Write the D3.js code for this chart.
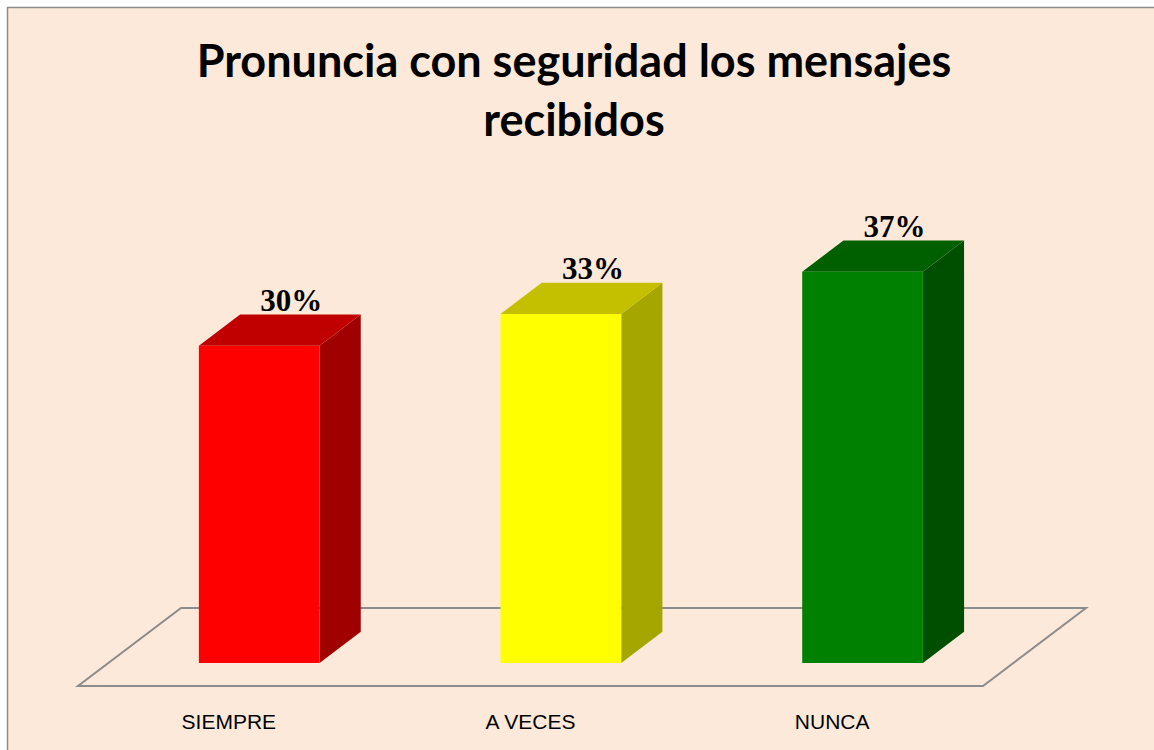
<!DOCTYPE html>
<html>
<head>
<meta charset="utf-8">
<script src="https://cdn.jsdelivr.net/npm/d3@7"></script>
<style>
  html, body { margin: 0; padding: 0; background: #ffffff; }
</style>
</head>
<body>
<div id="chart"></div>
<script>
// Data
const categories = ["SIEMPRE", "A VECES", "NUNCA"];
const values = [30, 33, 37];
const valueLabels = ["30%", "33%", "37%"];
const titleLines = ["Pronuncia con seguridad los mensajes", "recibidos"];

// Colours per bar: front, top, side
const frontColors = ["#ff0000", "#ffff00", "#008000"];
const topColors = ["#c00000", "#c4c000", "#006000"];
const sideColors = ["#a00000", "#a6a600", "#004f00"];

const width = 1154;
const height = 750;

const svg = d3.select("#chart")
    .append("svg")
    .attr("width", width)
    .attr("height", height);

// Chart area background and border
svg.append("rect")
    .attr("x", 7.5)
    .attr("y", 7.5)
    .attr("width", width + 10)
    .attr("height", height + 10)
    .attr("fill", "#fde9d9")
    .attr("stroke", "#8c8c8c")
    .attr("stroke-width", 1.5);

// Title
svg.append("g")
    .selectAll("text")
    .data(titleLines)
    .enter()
    .append("text")
    .attr("x", 574)
    .attr("y", (d, i) => 77 + i * 59)
    .attr("text-anchor", "middle")
    .style("font-family", "Lato, 'Open Sans', sans-serif")
    .style("font-weight", "bold")
    .style("font-size", "45px")
    .style("fill", "#000")
    .text(d => d);

// Floor geometry (front edge + depth vector)
const floorFront = 686;
const floorLeft = 78;
const floorRight = 983;
const depthX = 103;
const depthY = -78;

const x = d3.scaleBand()
    .domain(categories)
    .range([floorLeft, floorRight])
    .paddingInner(0.6)
    .paddingOuter(0.3);

// bars sit inside the floor depth
const barOffset = 0.295; // fraction of floor depth in front of the bar
const barDepth = 0.4;    // fraction of floor depth taken by the bar
const offX = depthX * barOffset, offY = depthY * barOffset;
const dX = depthX * barDepth, dY = depthY * barDepth;
const baseY = floorFront + offY;

const y = d3.scaleLinear()
    .domain([0, 40])
    .range([baseY, baseY - 423]);

// Floor
const floorPts = [
    [floorLeft, floorFront],
    [floorRight, floorFront],
    [floorRight + depthX, floorFront + depthY],
    [floorLeft + depthX, floorFront + depthY]
];
svg.append("polygon")
    .attr("points", floorPts.map(p => p.join(",")).join(" "))
    .attr("fill", "none")
    .attr("stroke", "#8c8c8c")
    .attr("stroke-width", 2);

// Bars
const bars = svg.append("g")
    .selectAll("g")
    .data(categories)
    .enter()
    .append("g");

function pts(arr) {
    return arr.map(p => p.join(",")).join(" ");
}

bars.each(function(c, i) {
    const g = d3.select(this);
    const x0 = x(c) + offX;
    const x1 = x0 + x.bandwidth();
    const yTop = y(values[i]);
    const yBot = y(0);

    // side face
    g.append("polygon")
        .attr("points", pts([[x1, yBot], [x1 + dX, yBot + dY], [x1 + dX, yTop + dY], [x1, yTop]]))
        .attr("fill", sideColors[i]);
    // top face
    g.append("polygon")
        .attr("points", pts([[x0, yTop], [x1, yTop], [x1 + dX, yTop + dY], [x0 + dX, yTop + dY]]))
        .attr("fill", topColors[i]);
    // front face
    g.append("rect")
        .attr("x", x0)
        .attr("y", yTop)
        .attr("width", x.bandwidth())
        .attr("height", yBot - yTop)
        .attr("fill", frontColors[i]);

    // value label
    g.append("text")
        .attr("x", (x0 + x1) / 2 + 32)
        .attr("y", yTop + dY - 4)
        .attr("text-anchor", "middle")
        .style("font-family", "'Liberation Serif', 'Times New Roman', serif")
        .style("font-weight", "bold")
        .style("font-size", "31px")
        .style("fill", "#000")
        .text(valueLabels[i]);
});

// Category labels
svg.append("g")
    .selectAll("text")
    .data(categories)
    .enter()
    .append("text")
    .attr("x", d => x(d) + x.bandwidth() / 2)
    .attr("y", 729)
    .attr("text-anchor", "middle")
    .style("font-family", "'Liberation Sans', Arial, sans-serif")
    .style("font-size", "21px")
    .style("fill", "#000")
    .text(d => d);
</script>
</body>
</html>
